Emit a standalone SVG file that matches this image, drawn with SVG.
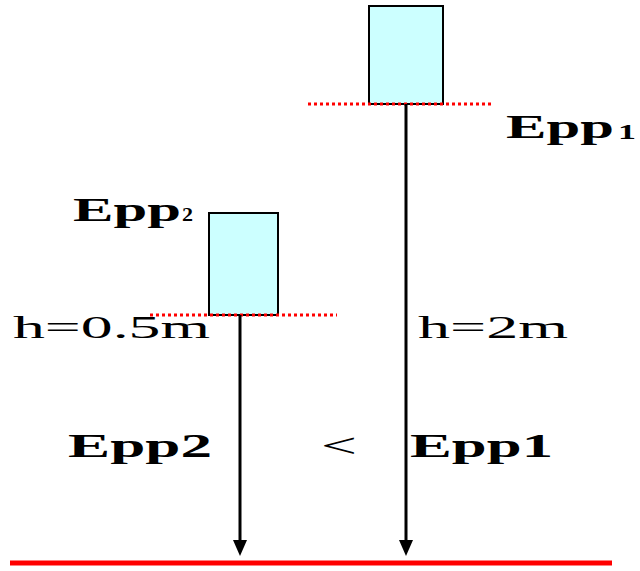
<svg xmlns="http://www.w3.org/2000/svg" width="640" height="571" viewBox="0 0 640 571">
<style>
.box{fill:#ccffff;stroke:#000;stroke-width:2}
.dot{stroke:#ff0000;stroke-width:3;stroke-dasharray:3 3;fill:none}
.arr{stroke:#000;stroke-width:3;fill:none}
.t{font-family:"Liberation Serif","DejaVu Serif",serif;font-weight:bold;fill:#000}
.h{font-family:"Liberation Serif","DejaVu Serif",serif;fill:#000}
</style>
<defs>
<marker id="ah" markerUnits="userSpaceOnUse" markerWidth="16" markerHeight="16" viewBox="0 0 16 16" refX="8" refY="15" orient="auto-start-reverse">
<path d="M1,0 L15,0 L8,15 Z" fill="#000"/>
</marker>
</defs>
<rect width="640" height="571" fill="#fff"/>
<g id="ground"><line x1="10" y1="563" x2="612" y2="563" stroke="#ff0000" stroke-width="5"/></g>
<g id="object1">
<rect class="box" x="369" y="6" width="74" height="98"/>
<line class="dot" x1="308" y1="104" x2="494" y2="104"/>
</g>
<g id="object2">
<rect class="box" x="209" y="213" width="69" height="102"/>
<line class="dot" x1="150" y1="315" x2="337" y2="315"/>
</g>
<g id="connectors">
<line class="arr" x1="406" y1="104" x2="406" y2="541"/>
<path d="M399,540 L413,540 L406,556 Z" fill="#000"/>
<line class="arr" x1="240" y1="315" x2="240" y2="541"/>
<path d="M233,540 L247,540 L240,556 Z" fill="#000"/>
</g>
<g id="labels">
<text class="t" x="506" y="138" font-size="33" textLength="108" lengthAdjust="spacingAndGlyphs">Epp</text>
<text class="t" x="618" y="139" font-size="22" textLength="18" lengthAdjust="spacingAndGlyphs">1</text>
<text class="t" x="73" y="221" font-size="34" textLength="108" lengthAdjust="spacingAndGlyphs">Epp</text>
<text class="t" x="182" y="221" font-size="18" textLength="11" lengthAdjust="spacingAndGlyphs">2</text>
<text class="h" x="13" y="338" font-size="32" textLength="197" lengthAdjust="spacingAndGlyphs">h=0.5m</text>
<text class="h" x="418" y="338" font-size="32" textLength="150" lengthAdjust="spacingAndGlyphs">h=2m</text>
<text class="t" x="68" y="457" font-size="33" textLength="144" lengthAdjust="spacingAndGlyphs">Epp2</text>
<text class="h" x="321" y="457" font-size="33" textLength="36" lengthAdjust="spacingAndGlyphs">&lt;</text>
<text class="t" x="410" y="457" font-size="33" textLength="143" lengthAdjust="spacingAndGlyphs">Epp1</text>
</g>
</svg>
